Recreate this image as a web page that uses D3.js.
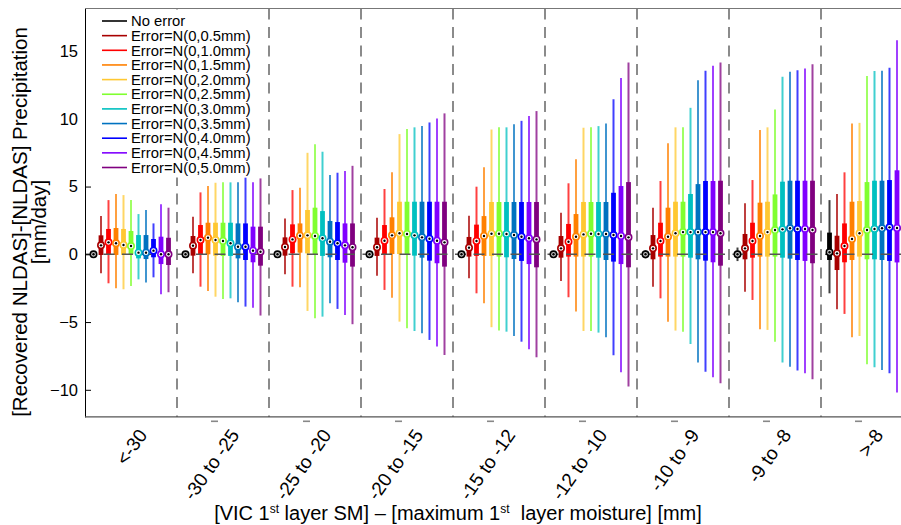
<!DOCTYPE html>
<html><head><meta charset="utf-8">
<script src="https://cdn.jsdelivr.net/npm/d3@7"></script>
<style>
body{margin:0;background:#fff}
svg{display:block}
text{font-family:"Liberation Sans",Arial,Helvetica,sans-serif;fill:#000}
</style>
</head><body>
<svg id="chart" width="901" height="525"></svg>
<script>
// ---------------- DATA ----------------
const categories = ["<-30","-30 to -25","-25 to -20","-20 to -15","-15 to -12","-12 to -10","-10 to -9","-9 to -8",">-8"];
const seriesNames = ["No error","Error=N(0,0.5mm)","Error=N(0,1.0mm)","Error=N(0,1.5mm)","Error=N(0,2.0mm)","Error=N(0,2.5mm)","Error=N(0,3.0mm)","Error=N(0,3.5mm)","Error=N(0,4.0mm)","Error=N(0,4.5mm)","Error=N(0,5.0mm)"];
const seriesColors = ["#000000","#a80000","#ff0000","#ff8000","#ffc832","#80ff30","#00c0c0","#0072c0","#0000ff","#8000ff","#800080"];
const yTicks = [-10,-5,0,5,10,15];

// each entry: [lower whisker, Q1, median, Q3, upper whisker] per category
const noError = [[0,0,0,0,0],[0,0,0,0,0],[0,0,0,0,0],[0,0,0,0,0],[0,0,0,0,0],[0,0,0,0,0],[-0.3,-0.05,0,0.05,0.3],[-0.5,-0.1,0,0.1,0.5],[-2.88,-0.42,0.15,1.6,4.0]];
const err05 = [[-1.40,-0.05,0.66,1.40,2.82],[-1.40,-0.10,0.64,1.35,2.77],[-1.48,-0.10,0.54,1.25,2.65],[-1.58,-0.12,0.52,1.23,2.70],[-1.77,-0.17,0.49,1.28,2.85],[-1.97,-0.25,0.44,1.35,3.07],[-2.39,-0.37,0.44,1.42,3.44],[-2.76,-0.37,0.44,1.50,3.76],[-4.06,-1.16,0.07,1.37,4.45]];
const err10 = [[-2.14,0,0.88,1.87,4.0],[-2.39,0,1.05,2.16,4.57],[-2.39,0.07,1.10,2.21,4.74],[-2.63,0.02,1.0,2.16,4.82],[-2.88,-0.12,0.98,2.19,4.99],[-3.17,-0.17,0.93,2.24,5.24],[-3.25,-0.17,0.98,2.33,5.41],[-3.37,-0.25,0.98,2.33,5.48],[-4.40,-0.59,0.61,2.28,6.05]];
const err15 = [[-2.50,-0.05,0.81,1.94,4.45],[-2.70,0,1.23,2.33,5.04],[-2.43,0.12,1.37,2.28,4.91],[-3.20,0.02,1.40,2.73,6.05],[-3.61,-0.12,1.35,2.82,6.42],[-4.23,-0.17,1.30,2.97,7.02],[-4.97,-0.17,1.30,3.44,8.19],[-5.53,-0.17,1.35,3.81,9.17],[-6.12,-0.42,1.13,3.88,9.66]];
const err20 = [[-2.58,-0.05,0.69,1.87,4.37],[-3.13,-0.10,1.05,2.33,5.28],[-4.18,0.07,1.40,3.27,7.49],[-4.97,0.02,1.55,3.88,8.87],[-5.38,-0.12,1.52,3.86,9.21],[-5.66,-0.17,1.47,3.86,9.34],[-5.63,-0.17,1.55,3.88,9.37],[-5.58,-0.17,1.64,3.88,9.37],[-6.03,-0.17,1.55,3.93,9.70]];
const err25 = [[-2.34,0,0.61,1.72,4.0],[-3.30,-0.12,0.98,2.33,5.31],[-4.72,0,1.35,3.44,8.13],[-5.46,-0.05,1.50,3.88,9.24],[-5.63,-0.17,1.52,3.86,9.37],[-5.66,-0.17,1.52,3.86,9.37],[-5.71,-0.17,1.64,3.88,9.37],[-6.45,-0.17,1.79,4.42,10.69],[-8.11,-0.37,1.79,5.33,13.15]];
const err30 = [[-1.85,-0.30,0.12,1.42,2.97],[-3.25,-0.12,0.81,2.33,5.31],[-4.60,-0.12,1.18,3.19,7.57],[-5.66,-0.10,1.40,3.88,9.37],[-5.71,-0.22,1.50,3.86,9.37],[-5.78,-0.25,1.50,3.86,9.46],[-6.62,-0.25,1.64,4.45,10.81],[-7.99,-0.25,1.84,5.36,13.10],[-8.33,-0.37,1.87,5.43,13.52]];
const err35 = [[-2.09,-0.35,0.12,1.42,3.27],[-3.54,-0.30,0.56,2.28,5.31],[-3.61,-0.22,0.93,2.46,5.85],[-5.83,-0.25,1.25,3.88,9.46],[-6.03,-0.35,1.42,3.86,9.59],[-6.12,-0.42,1.50,3.86,9.66],[-7.99,-0.37,1.64,5.18,12.85],[-8.29,-0.32,1.92,5.43,13.47],[-8.53,-0.42,1.92,5.43,13.54]];
const err40 = [[-1.70,-0.22,0.27,1.13,2.28],[-3.86,-0.42,0.56,2.28,5.68],[-4.03,-0.42,0.81,2.38,6.02],[-6.32,-0.47,1.15,3.88,9.73],[-6.45,-0.49,1.30,3.86,9.85],[-7.45,-0.54,1.42,4.54,11.45],[-8.66,-0.47,1.64,5.41,13.54],[-8.58,-0.42,1.87,5.43,13.59],[-8.78,-0.49,1.99,5.48,13.76]];
const err45 = [[-2.95,-0.72,0,1.30,3.70],[-3.94,-0.59,0.27,2.04,5.31],[-4.48,-0.62,0.66,2.28,6.14],[-6.81,-0.66,1.0,3.88,10.03],[-7.01,-0.72,1.18,3.86,10.20],[-8.70,-0.72,1.35,5.04,13.02],[-9.07,-0.59,1.64,5.41,13.91],[-8.78,-0.49,1.87,5.43,13.72],[-10.2,-0.6,1.94,6.2,15.8]];
const err50 = [[-2.80,-0.79,0,1.22,3.44],[-4.52,-0.84,0.19,2.04,5.60],[-5.16,-0.91,0.52,2.28,6.53],[-7.43,-0.91,0.88,3.88,10.40],[-7.60,-0.96,1.10,3.86,10.57],[-9.76,-0.96,1.25,5.33,14.16],[-9.51,-0.84,1.55,5.43,14.16],[-9.22,-0.66,1.79,5.43,14.03],[-11.0,-0.9,1.9,6.5,16.5]];

const seriesData = [noError, err05, err10, err15, err20, err25, err30, err35, err40, err45, err50];

// ---------------- LAYOUT ----------------
const svg = d3.select("#chart");
const L = 85, R = 913, T = 8.5, B = 416.9;

const x = d3.scaleBand().domain(categories).range([L, R]).paddingInner(0).paddingOuter(0);
const xs = d3.scalePoint().domain(seriesNames).range([-37.5, 37.5]);
const y = d3.scaleLinear().domain([-12, 18.14]).range([B, T]);

const boxes = [];
seriesData.forEach((arr, si) => {
  arr.forEach((d, ci) => {
    boxes.push({si, ci, cx: x(categories[ci]) + x.bandwidth()/2 + xs(seriesNames[si]),
      lo: d[0], q1: d[1], med: d[2], q3: d[3], hi: d[4], color: seriesColors[si]});
  });
});

// group separators
svg.append("g").selectAll("line").data(categories.slice(1)).join("line")
  .attr("x1", d => x(d)).attr("x2", d => x(d))
  .attr("y1", T).attr("y2", B)
  .attr("stroke", "#666").attr("stroke-width", 1.5)
  .attr("stroke-dasharray", "11,7.5");

// whiskers
svg.append("g").selectAll("line").data(boxes).join("line")
  .attr("x1", d => d.cx).attr("x2", d => d.cx)
  .attr("y1", d => y(d.hi)).attr("y2", d => y(d.lo))
  .attr("stroke", d => d.color).attr("stroke-opacity", 0.75).attr("stroke-width", 2);

// boxes
svg.append("g").selectAll("rect").data(boxes).join("rect")
  .attr("x", d => d.cx - 2.4).attr("width", 4.8)
  .attr("y", d => y(d.q3)).attr("height", d => Math.max(0, y(d.q1) - y(d.q3)))
  .attr("fill", d => d.color);

// zero line
svg.append("line")
  .attr("x1", L).attr("x2", 901).attr("y1", y(0)).attr("y2", y(0))
  .attr("stroke", "#555").attr("stroke-width", 1.6)
  .attr("stroke-dasharray", "11,7.5");

// median markers
const mk = svg.append("g").selectAll("g").data(boxes).join("g")
  .attr("transform", d => `translate(${d.cx},${y(d.med)})`);
mk.append("circle").attr("r", 3.2)
  .attr("fill", d => d.si === 0 ? "#c8c8c8" : "#fff")
  .attr("stroke", d => d.color).attr("stroke-width", 1.6);
mk.append("circle").attr("r", 1.2).attr("fill", "#000");

// axes / frame
const yAxis = d3.axisLeft(y).tickValues(yTicks).tickSizeInner(-6).tickSizeOuter(0).tickPadding(7);
const gy = svg.append("g").attr("transform", `translate(${L},0)`).call(yAxis);
gy.select(".domain").attr("stroke", "#000");
gy.selectAll(".tick line").attr("stroke", "#000");
gy.selectAll(".tick text").style("font-size", "16.5px").attr("fill", "#000");

svg.append("line").attr("x1", L).attr("x2", 901).attr("y1", T).attr("y2", T).attr("stroke", "#777").attr("stroke-width", 1.2);
svg.append("line").attr("x1", L).attr("x2", 901).attr("y1", B).attr("y2", B).attr("stroke", "#555").attr("stroke-width", 1.2);

// residual tick marks under axis
svg.append("g").selectAll("rect").data(categories.slice(1)).join("rect")
  .attr("x", d => x(d) + x.bandwidth()/2 - 12).attr("y", 420.5).attr("width", 7).attr("height", 1.6)
  .attr("fill", "#888");

// x tick labels
svg.append("g").selectAll("text").data(categories).join("text")
  .attr("transform", d => `translate(${x(d) + x.bandwidth()/2 + 17},435) rotate(-55)`)
  .attr("text-anchor", "end")
  .style("font-size", "19px")
  .text(d => d);

// x title
const xt = svg.append("text").attr("x", 458).attr("y", 520).attr("text-anchor", "middle")
  .style("font-size", "20px").attr("xml:space", "preserve");
xt.append("tspan").text("[VIC 1");
xt.append("tspan").attr("dy", -7).style("font-size", "12px").text("st");
xt.append("tspan").attr("dy", 7).text(" layer SM] \u2013 [maximum 1");
xt.append("tspan").attr("dy", -7).style("font-size", "12px").text("st");
xt.append("tspan").attr("dy", 7).text("  layer moisture] [mm]");

// y title
const yt = svg.append("text").attr("transform", "translate(27,222) rotate(-90)")
  .attr("text-anchor", "middle").style("font-size", "20.5px");
yt.append("tspan").attr("x", 0).attr("y", 0).text("[Recovered NLDAS]-[NLDAS] Precipitation");
yt.append("tspan").attr("x", 0).attr("y", 19).text("[mm/day]");

// legend
svg.append("rect").attr("x", L + 1).attr("y", T + 1).attr("width", 180).attr("height", 168).attr("fill", "#fff");
const lg = svg.append("g").selectAll("g").data(seriesNames).join("g")
  .attr("transform", (d, i) => `translate(0,${21 + i * 14.65})`);
lg.append("line").attr("x1", 102).attr("x2", 127).attr("y1", 0).attr("y2", 0)
  .attr("stroke", (d, i) => seriesColors[i]).attr("stroke-width", 1.6);
lg.append("text").attr("x", 131).attr("y", 5.2).style("font-size", "14.8px").text(d => d);
</script>
</body></html>
